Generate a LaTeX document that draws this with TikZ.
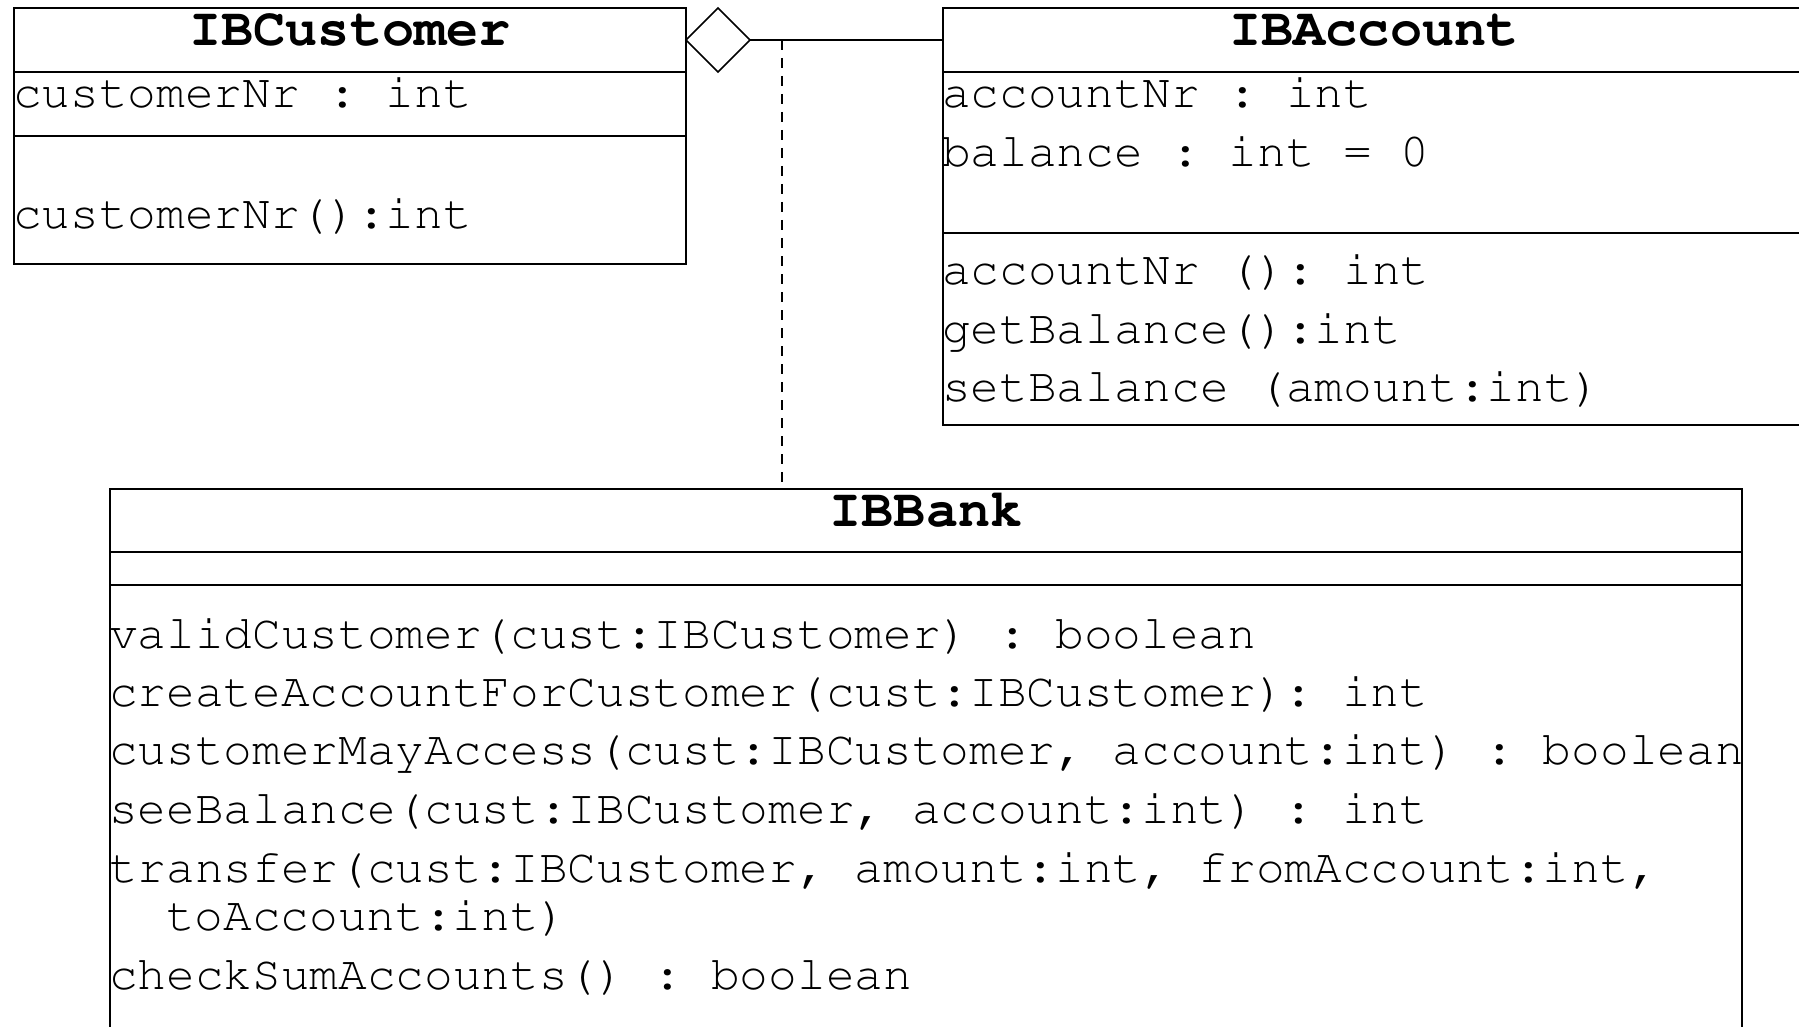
\documentclass[tikz,border=0pt]{standalone}
\usepackage[T1,TU]{fontenc}
\usetikzlibrary{shapes.geometric}
\newcommand{\umlfont}{\fontencoding{T1}\fontfamily{pcr}}
\tikzset{
  comp/.style={draw, rectangle, anchor=north west, inner sep=0pt, outer sep=0pt},
  member/.style={anchor=base west, inner sep=0pt, outer sep=0pt,
    font=\umlfont\mdseries\fontsize{47.8}{57}\selectfont\frenchspacing},
  ctitle/.style={anchor=base, inner sep=0pt, outer sep=0pt,
    font=\umlfont\bfseries\fontsize{53.5}{60}\selectfont\frenchspacing},
  assocline/.style={line width=1.5pt},
  depline/.style={line width=1.3pt, dash pattern=on 10pt off 8pt},
}
\begin{document}
\begin{tikzpicture}[x=1pt, y=-1pt, line width=1.5pt]
\path[use as bounding box] (0,0) rectangle (1799,1027);
\clip (0,0) rectangle (1799,1027);

% IBCustomer
\node[comp, minimum width=672pt, minimum height=64pt] (custT) at (14,8) {};
\node[comp, minimum width=672pt, minimum height=64pt] (custA) at (14,72) {};
\node[comp, minimum width=672pt, minimum height=128pt] (custO) at (14,136) {};
\node[ctitle] (custName) at (350,46) {IBCustomer};
\node[member] (custA1) at (13,108) {customerNr : int};
\node[member] (custO1) at (13,229) {customerNr():int};

% IBAccount
\node[comp, minimum width=862pt, minimum height=64pt] (acctT) at (943,8) {};
\node[comp, minimum width=862pt, minimum height=161pt] (acctA) at (943,72) {};
\node[comp, minimum width=862pt, minimum height=192pt] (acctO) at (943,233) {};
\node[ctitle] (acctName) at (1374,46) {IBAccount};
\node[member] (acctA1) at (942,108) {accountNr : int};
\node[member] (acctA2) at (942,167) {balance : int = 0};
\node[member] (acctO1) at (942,284) {accountNr (): int};
\node[member] (acctO2) at (942,343) {getBalance():int};
\node[member] (acctO3) at (942,401) {setBalance (amount:int)};

% IBBank
\node[comp, minimum width=1632pt, minimum height=63pt] (bankT) at (110,489) {};
\node[comp, minimum width=1632pt, minimum height=33pt] (bankA) at (110,552) {};
\node[comp, minimum width=1632pt, minimum height=470pt] (bankO) at (110,585) {};
\node[ctitle] (bankName) at (926,526) {IBBank};
\node[member] (bankO1) at (109,648) {validCustomer(cust:IBCustomer) : boolean};
\node[member] (bankO2) at (109,706) {createAccountForCustomer(cust:IBCustomer): int};
\node[member] (bankO3) at (109,764) {customerMayAccess(cust:IBCustomer, account:int) : boolean};
\node[member] (bankO4) at (109,823) {seeBalance(cust:IBCustomer, account:int) : int};
\node[member] (bankO5) at (109,882) {transfer(cust:IBCustomer, amount:int, fromAccount:int,};
\node[member] (bankO5b) at (166,930) {toAccount:int)};
\node[member] (bankO6) at (109,989) {checkSumAccounts() : boolean};

% aggregation
\node[diamond, draw, fill=white, minimum width=64pt, minimum height=64pt,
      inner sep=0pt, outer sep=0pt, anchor=west] (diam) at (custT.east) {};
\draw[assocline] (diam.east) -- (acctT.west);
\coordinate (assoc) at (782,40);
\draw[depline] (assoc) -- (assoc |- bankT.north);
\end{tikzpicture}
\end{document}
